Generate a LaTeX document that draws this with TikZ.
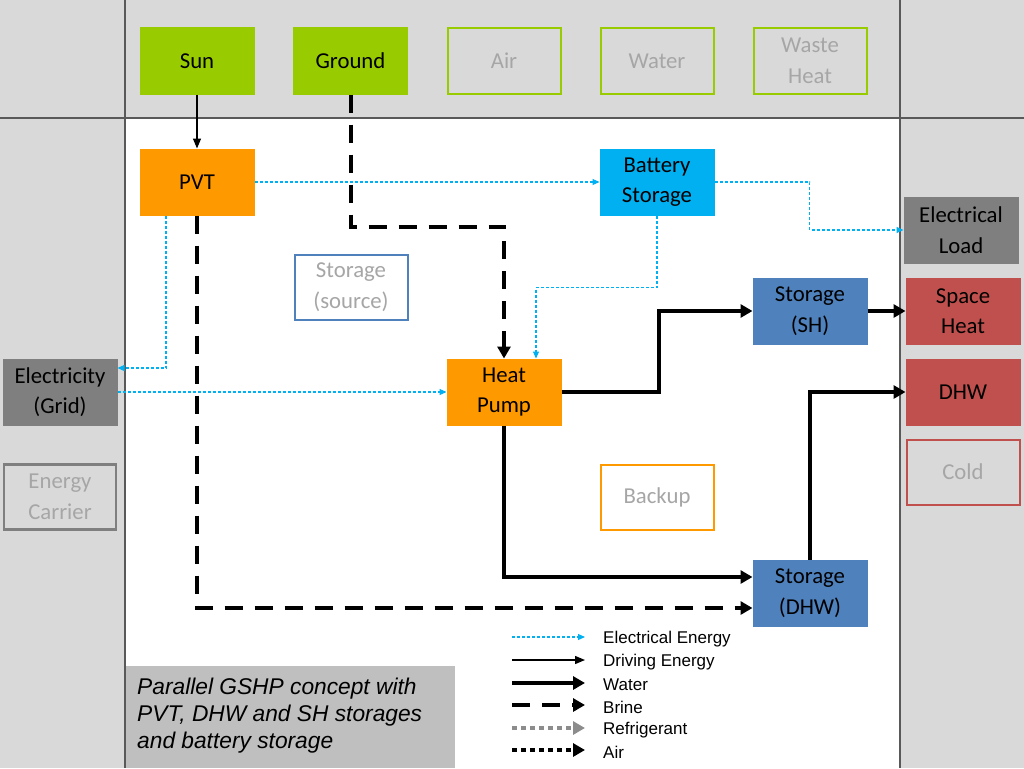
\documentclass[tikz,border=0pt]{standalone}
\usepackage{fontspec}
\setmainfont{Carlito}
\newfontfamily\arialfont{Liberation Sans}
\usetikzlibrary{arrows.meta,positioning}
\definecolor{lime}{HTML}{99CC00}
\definecolor{hporange}{HTML}{FF9900}
\definecolor{elecblue}{HTML}{00B0F0}
\definecolor{stblue}{HTML}{4F81BD}
\definecolor{loadred}{HTML}{C0504D}
\definecolor{darkbox}{HTML}{7F7F7F}
\definecolor{bggray}{HTML}{D9D9D9}
\definecolor{capgray}{HTML}{BFBFBF}
\definecolor{txtgray}{HTML}{A6A6A6}
\definecolor{divider}{HTML}{595959}
\definecolor{refgray}{HTML}{8C8C8C}

\begin{document}
\begin{tikzpicture}[x=1pt, y=-1pt, node distance=38.5pt,
 box/.style  = {rectangle, minimum width=115pt, minimum height=67pt, inner sep=0pt,
                outer sep=0pt, align=center, font=\fontsize{22.75}{30.5}\selectfont},
 fbox/.style = {box, fill=#1},
 obox/.style = {box, draw=#1, line width=2pt, text=txtgray,
                minimum width=113pt, minimum height=65pt},
 elec/.style  = {draw=elecblue, line width=1.1pt, dash pattern=on 3pt off 2pt,
                 -{Triangle[length=7pt,width=6pt]}},
 drive/.style = {draw=black, line width=1.3pt, -{Triangle[length=10pt,width=8pt]}},
 water/.style = {draw=black, line width=4pt, -{Triangle[length=12pt,width=13pt]}},
 brine/.style = {water, dash pattern=on 18pt off 12pt},
 refr/.style  = {water, draw=refgray, dash pattern=on 5pt off 4pt},
 airflow/.style = {water, dash pattern=on 5pt off 4pt},
 legtext/.style = {anchor=west, inner sep=0pt, font=\arialfont\fontsize{17}{20}\selectfont},
                        ]
    \useasboundingbox (0,0) rectangle (1024,768);
    % background bands
    \fill[bggray] (0,0) rectangle (1024,768);
    \fill[white] (125,118) rectangle (900,768);
    \draw[divider, line width=1.5pt] (125,0) -- (125,768) (900,0) -- (900,768) (0,118) -- (1024,118);

    % sources
    \node [fbox=lime]                   (sun)    at (197,61) {Sun};
    \node [fbox=lime, right=of sun]     (ground) {Ground};
    \node [obox=lime]                   (air)    at (504,61) {Air};
    \node [obox=lime]                   (water)  at (657,61) {Water};
    \node [obox=lime]                   (waste)  at (810,61) {Waste\\Heat};

    % system
    \node [fbox=hporange, below=54pt of sun]   (pvt)  {PVT};
    \node [fbox=elecblue]  (bat)  at (657,182) {Battery\\Storage};
    \node [obox=stblue]    (src)  at (351,287) {Storage\\(source)};
    \node [fbox=hporange]  (hp)   at (504,392) {Heat\\Pump};
    \node [fbox=stblue]    (ssh)  at (810,311) {Storage\\(SH)};
    \node [obox=hporange]  (bkp)  at (657,497) {Backup};
    \node [fbox=stblue]    (sdhw) at (810,593) {Storage\\(DHW)};

    % loads
    \node [fbox=darkbox]   (load)  at (961,230) {Electrical\\Load};
    \node [fbox=loadred]   (sheat) at (963,311) {Space\\Heat};
    \node [fbox=loadred]   (dhw)   at (963,392) {DHW};
    \node [obox=loadred]   (cold)  at (963,472) {Cold};

    % carriers
    \node [fbox=darkbox]   (grid)  at (60,392) {Electricity\\(Grid)};
    \node [obox=darkbox, fill=bggray, line width=2.5pt, minimum width=112pt] (carr) at (60,497) {Energy\\Carrier};

    % connectors
    \draw[drive] (sun) -- (pvt);
    \draw[elec]  (pvt) -- (bat);
    \draw[elec]  (bat.east) -- ++(95,0) |- (load.west);
    \draw[elec]  (bat.south) -- ++(0,72) -| ([xshift=32pt]hp.north);
    \draw[elec]  ([xshift=-31pt]pvt.south) |- ([yshift=24pt]grid.east);
    \draw[elec]  (grid) -- (hp);
    \draw[brine] (ground.south) -- ++(0,132) -| (hp.north);
    \draw[brine] (pvt.south) |- ([yshift=-15pt]sdhw.west);
    \draw[water] (hp.east) -- ++(97,0) |- (ssh.west);
    \draw[water] (ssh) -- (sheat);
    \draw[water] (hp.south) |- ([yshift=16pt]sdhw.west);
    \draw[water] (sdhw.north) |- (dhw.west);

    % legend
    \node [legtext] (l1) at (603,639) {Electrical Energy};
    \node [legtext] (l2) at (603,662) {Driving Energy};
    \node [legtext] (l3) at (603,685) {Water};
    \node [legtext] (l4) at (603,707) {Brine};
    \node [legtext] (l5) at (603,730) {Refrigerant};
    \node [legtext] (l6) at (603,752) {Air};
    \draw[elec]    ([xshift=-91pt,yshift=2pt]l1.west) -- ([xshift=-18pt,yshift=2pt]l1.west);
    \draw[drive]   ([xshift=-91pt,yshift=2pt]l2.west) -- ([xshift=-18pt,yshift=2pt]l2.west);
    \draw[water]   ([xshift=-91pt,yshift=2pt]l3.west) -- ([xshift=-18pt,yshift=2pt]l3.west);
    \draw[brine]   ([xshift=-91pt,yshift=2pt]l4.west) -- ([xshift=-18pt,yshift=2pt]l4.west);
    \draw[refr]    ([xshift=-91pt,yshift=2pt]l5.west) -- ([xshift=-18pt,yshift=2pt]l5.west);
    \draw[airflow] ([xshift=-91pt,yshift=2pt]l6.west) -- ([xshift=-18pt,yshift=2pt]l6.west);

    % caption
    \fill[capgray] (126,666) rectangle (455,768);
    \node [anchor=north west, inner sep=0pt, align=left,
           font=\arialfont\itshape\fontsize{22.75}{27}\selectfont] (cap) at (137,678)
          {Parallel GSHP concept with\\PVT, DHW and SH storages\\and battery storage};
\end{tikzpicture}
\end{document}
